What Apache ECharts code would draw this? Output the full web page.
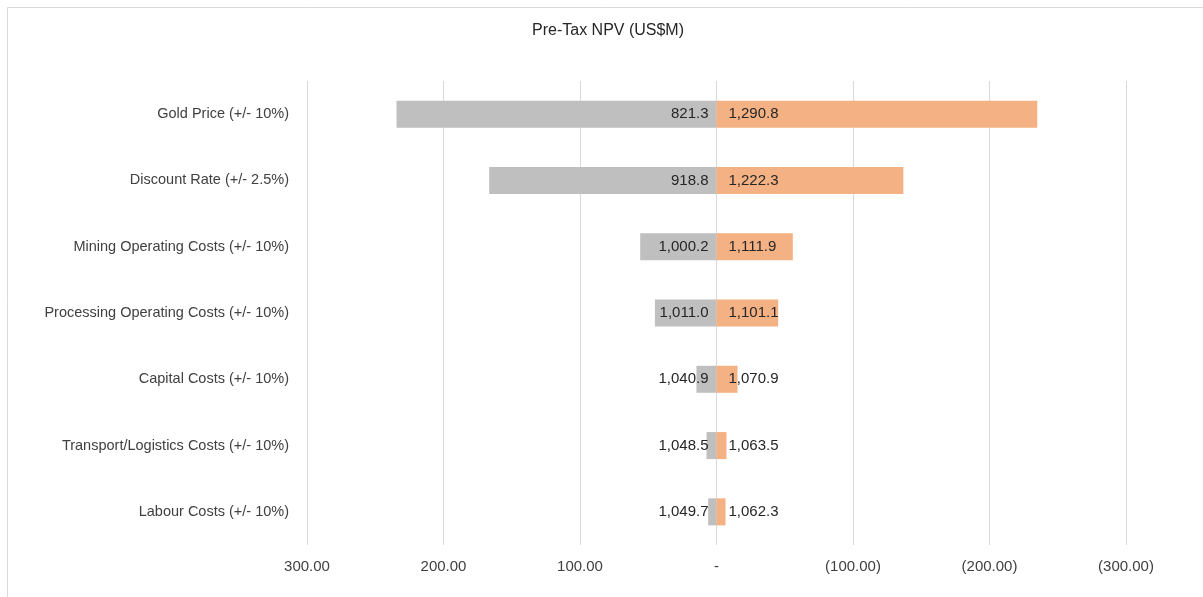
<!DOCTYPE html>
<html>
<head>
<meta charset="utf-8">
<script src="https://cdn.jsdelivr.net/npm/echarts@6/dist/echarts.min.js"></script>
<style>
  html, body { margin: 0; padding: 0; background: #fff; }
  #chart { width: 1203px; height: 597px; }
</style>
</head>
<body>
<div id="chart"></div>
<script>
// 敏感性因素
const factors = [
  'Gold Price (+/- 10%)',
  'Discount Rate (+/- 2.5%)',
  'Mining Operating Costs (+/- 10%)',
  'Processing Operating Costs (+/- 10%)',
  'Capital Costs (+/- 10%)',
  'Transport/Logistics Costs (+/- 10%)',
  'Labour Costs (+/- 10%)'
];

// 标签上显示的 NPV 值
const lowNpv = [821.3, 918.8, 1000.2, 1011.0, 1040.9, 1048.5, 1049.7];
const highNpv = [1290.8, 1222.3, 1111.9, 1101.1, 1070.9, 1063.5, 1062.3];

// 条形长度
const greyBars = [234.4, 166.5, 55.9, 45.1, 14.7, 7.3, 6.1];
const orangeBars = [-235.0, -136.9, -55.9, -45.2, -15.4, -7.3, -6.6];

// 坐标轴刻度
const axisMin = -300;
const axisMax = 300;
const axisStep = 100;

const fmt = v => v.toLocaleString('en-US', { minimumFractionDigits: 1, maximumFractionDigits: 1 });

const axisFmt = v => {
  if (v === 0) return '-';
  const s = Math.abs(v).toFixed(2);
  return v < 0 ? '(' + s + ')' : s;
};

const chart = echarts.init(document.getElementById('chart'));
chart.setOption({
  animation: false,
  backgroundColor: '#fff',
  textStyle: { fontFamily: 'Liberation Sans, Arial, sans-serif' },
  graphic: [{
    type: 'rect',
    shape: { x: 7.5, y: 7.5, width: 1220, height: 620 },
    style: { fill: 'none', stroke: '#D9D9D9', lineWidth: 1 },
    silent: true
  }],
  title: {
    text: 'Pre-Tax NPV (US$M)',
    left: 532,
    top: 18,
    padding: [5, 0, 5, 0],
    textStyle: { fontSize: 16, fontWeight: 'normal', color: '#262626' }
  },
  grid: { left: 307, right: 77, top: 81, bottom: 52, containLabel: false },
  xAxis: {
    type: 'value',
    inverse: true,
    min: axisMin,
    max: axisMax,
    interval: axisStep,
    axisLine: { show: false },
    axisTick: { show: false },
    splitLine: { lineStyle: { color: '#D9D9D9', width: 1 } },
    axisLabel: { formatter: axisFmt, fontSize: 15, color: '#404040', margin: 14 }
  },
  yAxis: {
    type: 'category',
    inverse: true,
    data: factors,
    axisLine: { show: false },
    axisTick: { show: false },
    axisLabel: { fontSize: 14.5, color: '#404040', margin: 18 }
  },
  series: [
    {
      name: 'Low',
      type: 'bar',
      data: greyBars,
      barWidth: 27,
      barGap: '-100%',
      itemStyle: { color: '#BFBFBF' },
      label: {
        show: true,
        position: 'insideRight',
        distance: 8,
        fontSize: 15,
        color: '#262626',
        formatter: p => fmt(lowNpv[p.dataIndex])
      }
    },
    {
      name: 'High',
      type: 'bar',
      data: orangeBars,
      barWidth: 27,
      barGap: '-100%',
      itemStyle: { color: '#F4B183' },
      label: {
        show: true,
        position: 'insideLeft',
        distance: 12,
        fontSize: 15,
        color: '#262626',
        formatter: p => fmt(highNpv[p.dataIndex])
      }
    }
  ]
});
</script>
</body>
</html>
